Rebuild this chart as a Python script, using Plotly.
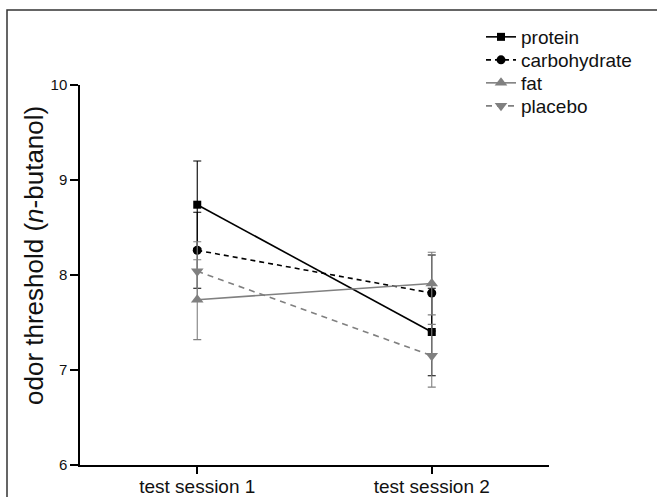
import plotly.graph_objects as go

sessions = ["test session 1", "test session 2"]
series_names = ["protein", "carbohydrate", "fat", "placebo"]
protein = [8.74, 7.40]
protein_err = [0.46, 0.46]
carbohydrate = [8.26, 7.81]
carbohydrate_err = [0.40, 0.40]
fat = [7.74, 7.91]
fat_err = [0.42, 0.33]
placebo = [8.04, 7.15]
placebo_err = [0.31, 0.33]
y_ticks = [6, 7, 8, 9, 10]

FONT = "Liberation Sans, Arial, sans-serif"
BLACK = "#000000"
GREY = "#808080"

styles = [
    (protein, protein_err, BLACK, "solid", "square", 8),
    (carbohydrate, carbohydrate_err, BLACK, "5px,4px", "circle", 9),
    (fat, fat_err, GREY, "solid", "triangle-up", 11),
    (placebo, placebo_err, GREY, "6px,5px", "triangle-down", 11),
]
legend_ids = ["legend", "legend2", "legend3", "legend4"]
legend_centers = [37, 60, 83, 106]

W, H = 657, 497
L, R, T, B = 80, 108, 85, 32
pw, ph = W - L - R, H - T - B

def px_x(p):
    return (p - L) / pw

def px_y(p):
    return (H - B - p) / ph

fig = go.Figure()
for name, lid, (vals, errs, col, dash, sym, sz) in zip(series_names, legend_ids, styles):
    fig.add_trace(go.Scatter(
        x=sessions, y=vals, name=name, mode="lines+markers", legend=lid,
        line=dict(color=col, width=1.6, dash=dash),
        marker=dict(symbol=sym, size=sz, color=col),
        error_y=dict(type="data", array=errs, visible=True, color=col,
                     thickness=1.1, width=4),
    ))

legend_layout = {}
for lid, cy in zip(legend_ids, legend_centers):
    legend_layout[lid] = dict(
        x=px_x(481), y=px_y(cy), xanchor="left", yanchor="middle",
        font=dict(size=19, family=FONT, color="#111111"),
        bgcolor="rgba(0,0,0,0)",
    )

fig.update_layout(
    width=W, height=H,
    margin=dict(l=L, r=R, t=T, b=B, autoexpand=False),
    paper_bgcolor="white", plot_bgcolor="white",
    font=dict(family=FONT, color="#111111"),
    showlegend=True,
    xaxis=dict(
        type="category", range=[-0.5, 1.5], automargin=False,
        showline=True, linecolor="#000000", linewidth=1.5,
        ticks="outside", ticklen=7, tickwidth=1.5, tickcolor="#000000",
        ticklabelstandoff=-4,
        tickfont=dict(size=19, family=FONT, color="#111111"),
        showgrid=False, zeroline=False,
    ),
    yaxis=dict(
        range=[6, 10], tickvals=y_ticks, automargin=False,
        showline=True, linecolor="#000000", linewidth=1.5,
        ticks="outside", ticklen=8, tickwidth=1.5, tickcolor="#000000",
        tickfont=dict(size=15, family=FONT, color="#111111"),
        showgrid=False, zeroline=False,
    ),
    annotations=[dict(
        text="odor threshold (<i>n</i>-butanol)",
        xref="paper", yref="paper", x=px_x(34), y=px_y(256),
        xanchor="center", yanchor="middle", textangle=-90, showarrow=False,
        font=dict(size=26, family=FONT, color="#111111"),
    )],
    shapes=[dict(
        type="rect", xref="paper", yref="paper",
        x0=px_x(7), x1=px_x(700), y0=px_y(540), y1=px_y(10),
        line=dict(color="#333333", width=1.5), layer="below",
    )],
    **legend_layout,
)

fig.write_html("out.html", config={"displayModeBar": False},
               post_script="document.body.style.margin='0';")
